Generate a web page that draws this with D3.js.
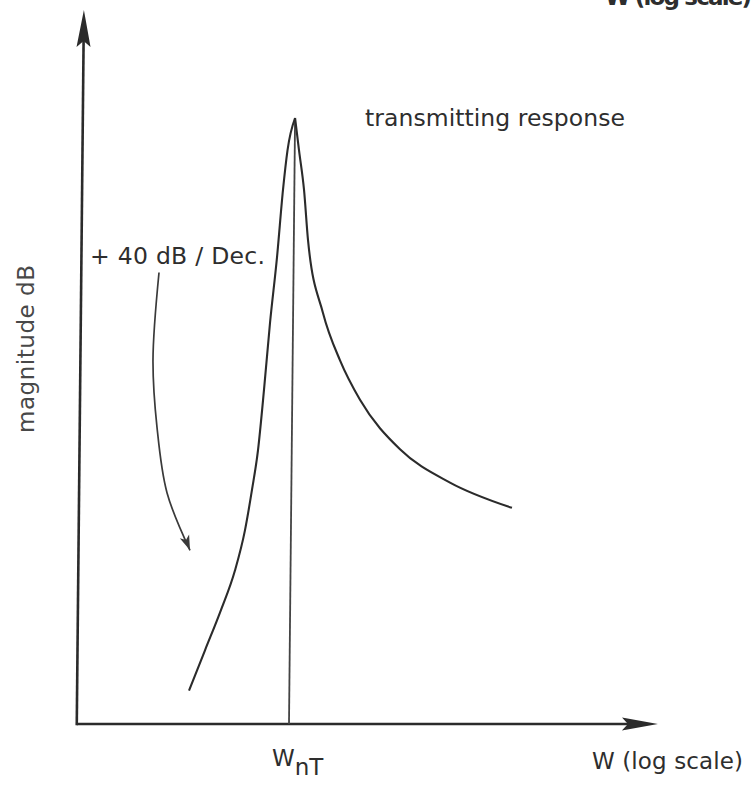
<!DOCTYPE html>
<html>
<head>
<meta charset="utf-8">
<script src="https://cdn.jsdelivr.net/npm/d3@7"></script>
<style>
  html, body { margin: 0; padding: 0; background: #fff; }
  svg { display: block; }
  text { font-family: "DejaVu Sans", sans-serif; fill: #2e2e2e; }
</style>
</head>
<body>
<svg id="chart" width="752" height="785"></svg>
<script>
// ---- data (frequency relative to W_nT, magnitude in dB) ----
const wNT = 1.0;
const peakDb = 60;
// rising side (+40 dB / Dec.)
const leftW  = [0.3415, 0.4035, 0.4770, 0.5514, 0.6114, 0.6562, 0.6966, 0.7383, 0.7816, 0.8365, 0.8857, 0.9254, 1.0];
const leftDb = [3.3, 7.3, 11.3, 15.2, 19.2, 23.2, 27.1, 33.1, 39.7, 46.2, 52.9, 56.8, 60];
// falling side
const rightW  = [1.0, 1.047, 1.109, 1.164, 1.377, 1.661, 2.066, 3.188, 5.466, 10.64];
const rightDb = [60, 56.8, 52.9, 47.9, 40.7, 36.0, 32.1, 27.2, 23.9, 21.4];
// annotation arrow path
const arrowW  = [0.2368, 0.2241, 0.2356, 0.2641, 0.3400];
const arrowDb = [44.7, 36.0, 29.4, 22.9, 17.2];
// axis extents
const xExtent = [0.103, 52];
const yExtent = [0, 70.7];
// labels
const xLabel = "W (log scale)";
const yLabel = "magnitude dB";
const slopeLabel = "+ 40 dB / Dec.";
const curveLabel = "transmitting response";
const tickMain = "W";
const tickSub = "nT";

// ---- scales ----
const x = d3.scaleLog().domain([0.1, 10]).range([74, 504]);
const y = d3.scaleLinear().domain([0, 60]).range([724, 118]);

const svg = d3.select("#chart");
const ink = "#2b2b2b";

// plot group with the slight shear of the original scan
const g = svg.append("g")
  .attr("transform", "translate(0,724) skewX(-0.573) translate(0,-724)");

const x0 = x(xExtent[0]), x1 = x(xExtent[1]);
const y0 = y(yExtent[0]), y1 = y(yExtent[1]);

// axes
g.append("line").attr("x1", x0).attr("y1", y0).attr("x2", x1 - 20).attr("y2", y0)
  .attr("stroke", ink).attr("stroke-width", 2.6);
g.append("line").attr("x1", x0).attr("y1", y0 + 1.3).attr("x2", x0).attr("y2", y1 + 20)
  .attr("stroke", ink).attr("stroke-width", 2.6);
// arrow heads
g.append("path")
  .attr("d", `M${x1},${y0} L${x1 - 36},${y0 - 6.5} L${x1 - 30},${y0} L${x1 - 36},${y0 + 6.5} Z`)
  .attr("fill", ink);
g.append("path")
  .attr("d", `M${x0},${y1} L${x0 - 7},${y1 + 37} L${x0},${y1 + 31} L${x0 + 7},${y1 + 37} Z`)
  .attr("fill", ink);

// vertical marker at W_nT
g.append("line").attr("x1", x(wNT)).attr("x2", x(wNT))
  .attr("y1", y(peakDb) + 4).attr("y2", y0)
  .attr("stroke", "#444").attr("stroke-width", 1.8);

// response curves
const line = d3.line().x(d => x(d[0])).y(d => y(d[1])).curve(d3.curveMonotoneX);
g.append("path").datum(leftW.map((w, i) => [w, leftDb[i]]))
  .attr("d", line).attr("fill", "none").attr("stroke", ink).attr("stroke-width", 2.1);
g.append("path").datum(rightW.map((w, i) => [w, rightDb[i]]))
  .attr("d", line).attr("fill", "none").attr("stroke", ink).attr("stroke-width", 2.1);

// annotation arrow
const aPts = arrowW.map((w, i) => [x(w), y(arrowDb[i])]);
g.append("path").attr("d", d3.line().curve(d3.curveCatmullRom)(aPts))
  .attr("fill", "none").attr("stroke", "#3a3a3a").attr("stroke-width", 1.7);
{
  const p = aPts[aPts.length - 1], q = aPts[aPts.length - 2];
  const ang = Math.atan2(p[1] - q[1], p[0] - q[0]) * 180 / Math.PI;
  g.append("path")
    .attr("d", "M0,0 L-15,-5 L-11,0 L-15,5 Z")
    .attr("transform", `translate(${p[0]},${p[1]}) rotate(${ang})`)
    .attr("fill", "#3a3a3a");
}

// ---- text ----
svg.append("text").attr("x", 365).attr("y", 126)
  .attr("font-size", 23.5).attr("textLength", 260).attr("lengthAdjust", "spacing")
  .style("font-weight", 500).text(curveLabel);

svg.append("text").attr("x", 90).attr("y", 264)
  .attr("font-size", 23.5).attr("textLength", 175).attr("lengthAdjust", "spacing")
  .text(slopeLabel);

svg.append("text")
  .attr("transform", "translate(34,349) rotate(-90)")
  .attr("text-anchor", "middle")
  .attr("font-size", 23).attr("textLength", 168).attr("lengthAdjust", "spacing")
  .style("fill", "#484848")
  .text(yLabel);

svg.append("text").attr("x", 592).attr("y", 769)
  .attr("font-size", 23).attr("textLength", 151).attr("lengthAdjust", "spacing")
  .text(xLabel);

// cropped duplicate label at top edge (as in the scanned original)
svg.append("text").attr("x", 605).attr("y", 5)
  .attr("font-size", 23).attr("textLength", 147).attr("lengthAdjust", "spacing")
  .style("font-weight", "bold")
  .text(xLabel);

const tk = svg.append("text").attr("x", 272).attr("y", 766).attr("font-size", 23);
tk.append("tspan").text(tickMain);
tk.append("tspan").attr("dy", 9).text(tickSub);
</script>
</body>
</html>
